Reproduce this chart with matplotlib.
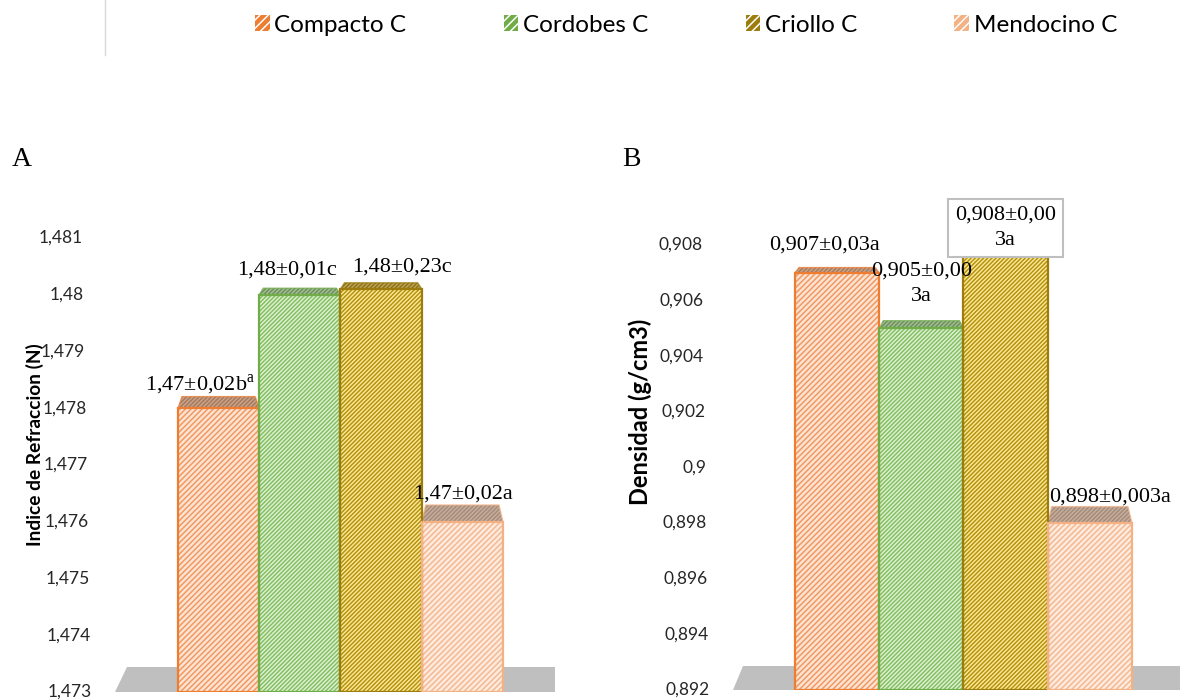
import matplotlib
matplotlib.use("Agg")
import matplotlib.pyplot as plt
from matplotlib.patches import Patch, Polygon
from matplotlib.lines import Line2D

# ---- data ---------------------------------------------------------------
categories = ["Compacto C", "Cordobes C", "Criollo C", "Mendocino C"]
refraction = [1.478, 1.480, 1.4801, 1.476]
density = [0.907, 0.905, 0.908, 0.898]
refraction_labels = ["1,47±0,02b$^{\\mathrm{a}}$", "1,48±0,01c", "1,48±0,23c", "1,47±0,02a"]
density_labels = ["0,907±0,03a", "0,905±0,00\n3a", "0,908±0,00\n3a", "0,898±0,003a"]
refraction_ticks = [1.473, 1.474, 1.475, 1.476, 1.477, 1.478, 1.479, 1.480, 1.481]
density_ticks = [0.892, 0.894, 0.896, 0.898, 0.900, 0.902, 0.904, 0.906, 0.908]

# ---- styling ------------------------------------------------------------
edge_colors = ["#ED7D31", "#70AD47", "#9C7C0C", "#F4B183"]
fill_colors = ["#FDE3D3", "#DFF2D6", "#FFEA9C", "#FDEBE0"]
hatch_colors = ["#F09A62", "#86BF63", "#B4930E", "#F5B88F"]
hatches = ["//////", "////////", "////////", "//////"]
top_colors = ["#CFA387", "#A3BF94", "#C2A551", "#C8AE9E"]
top_hatch_colors = ["#A27B62", "#6F905E", "#8A7420", "#A48C7B"]

SANS = ["Lato", "DejaVu Sans"]
SERIF = ["Liberation Serif", "DejaVu Serif"]
plt.rcParams["hatch.linewidth"] = 1.1
plt.rcParams["mathtext.fontset"] = "custom"
plt.rcParams["mathtext.rm"] = "Liberation Serif"

W, H = 1185, 700
fig = plt.figure(figsize=(W / 100, H / 100), dpi=100)


def axes_px(x0, x1, ytop, ybot):
    return fig.add_axes([x0 / W, 1 - ybot / H, (x1 - x0) / W, (ybot - ytop) / H])


def draw_panel(ax, values, labels, ticks, ylim, xlim, label_offsets, tick_x, boxed, floor_dx):
    ax.set_xlim(*xlim)
    ax.set_ylim(*ylim)
    ax.axis("off")

    # grey floor of the 3-D plot area
    floor = Polygon([(0, 0), (1, 0), (1, 0.055), (floor_dx, 0.055)], closed=True,
                    transform=ax.transAxes, facecolor="#BFBFBF", edgecolor="none",
                    zorder=1, clip_on=False)
    ax.add_patch(floor)

    x = list(range(len(values)))
    base = ylim[0]
    heights = [v - base for v in values]
    ax.bar(x, heights, width=1.0, bottom=base, color=fill_colors, zorder=3, linewidth=0)
    for i, h in enumerate(heights):
        ax.bar(i, h, width=1.0, bottom=base, facecolor="none", edgecolor=hatch_colors[i],
               hatch=hatches[i], linewidth=0, zorder=4)
    ax.bar(x, heights, width=1.0, bottom=base, facecolor="none", edgecolor=edge_colors,
           linewidth=1.6, zorder=5)

    # top faces of the bars, deeper for lower bars (perspective)
    bb = ax.get_position()
    ax_h_px = bb.height * H
    ax_w_px = bb.width * W
    per_px_y = (ylim[1] - ylim[0]) / ax_h_px
    per_px_x = (xlim[1] - xlim[0]) / ax_w_px
    for i, v in enumerate(values):
        top_px = (ylim[1] - v) / per_px_y
        depth = (4 + 0.045 * top_px) * per_px_y
        inset = 4 * per_px_x
        pts = [(i - 0.5, v), (i + 0.5, v), (i + 0.5 - inset, v + depth), (i - 0.5 + inset, v + depth)]
        ax.add_patch(Polygon(pts, closed=True, facecolor=top_colors[i], edgecolor="none",
                             zorder=2, clip_on=False))
        ax.add_patch(Polygon(pts, closed=True, facecolor="none", edgecolor=top_hatch_colors[i],
                             hatch="////////", linewidth=0, zorder=2, clip_on=False))
        ax.plot([i - 0.5, i - 0.5 + inset, i + 0.5 - inset, i + 0.5],
                [v, v + depth, v + depth, v], color=edge_colors[i], lw=1.0, zorder=2,
                clip_on=False, alpha=0.7)

    # value labels
    for i, (v, lab) in enumerate(zip(values, labels)):
        dx, dy = label_offsets[i]
        kw = {}
        if boxed[i]:
            kw["bbox"] = dict(boxstyle="square,pad=0.3", fc="white", ec="#BFBFBF", lw=1.5)
        ax.annotate(lab, xy=(i, v), xytext=(dx * 0.72, dy * 0.72), textcoords="offset points",
                    ha="center", va="center", fontsize=16, family=SERIF,
                    linespacing=1.45, zorder=8, annotation_clip=False, **kw)

    # tick labels (slightly slanted column, as in the 3-D view)
    t0, t1 = tick_x
    for t in ticks:
        frac = (t - ylim[0]) / (ylim[1] - ylim[0])
        xa = t1 + (t0 - t1) * frac
        ax.text(xa, t, f"{t:g}".replace(".", ","), transform=ax.get_yaxis_transform(),
                ha="right", va="center", fontsize=12.5, family=SANS, color="#262626",
                clip_on=False)


# panel A: refraction index
ax1 = axes_px(115, 555, 238, 692)
draw_panel(ax1, refraction, refraction_labels, refraction_ticks,
           ylim=(1.473, 1.481), xlim=(-1.275, 4.14),
           label_offsets=[(-19, 23), (-13, 25), (21, 22), (1, 28)],
           tick_x=(-0.0727, -0.052), boxed=[False, False, False, False], floor_dx=0.027)

# panel B: density
ax2 = axes_px(733, 1180, 245, 690)
draw_panel(ax2, density, density_labels, density_ticks,
           ylim=(0.892, 0.908), xlim=(-1.236, 4.07),
           label_offsets=[(-13, 28), (0, 45), (0, 17), (20, 26)],
           tick_x=(-0.069, -0.0515), boxed=[False, False, True, False], floor_dx=0.022)

# axis titles and panel letters
fig.text(35 / W, 1 - 445 / H, "Indice de Refraccion (N)", rotation=90, ha="center",
         va="center", fontsize=13.8, fontweight="bold", family=SANS)
fig.text(640 / W, 1 - 412 / H, "Densidad (g/cm3)", rotation=90, ha="center",
         va="center", fontsize=17, fontweight="bold", family=SANS)
fig.text(12 / W, 1 - 160 / H, "A", ha="left", va="center", fontsize=20, family=SERIF)
fig.text(622 / W, 1 - 160 / H, "B", ha="left", va="center", fontsize=20, family=SERIF)

# thin separator at the top-left
fig.add_artist(Line2D([105 / W, 105 / W], [1, 1 - 55 / H], color="#D9D9D9", lw=1))

# legend
handles = [Patch(facecolor=edge_colors[i], edgecolor="white", hatch="////", linewidth=0)
           for i in range(len(categories))]
fig.legend(handles, categories, loc="center left", bbox_to_anchor=(255 / W, 1 - 25 / H),
           ncol=4, frameon=False, prop={"family": SANS, "size": 17.5},
           handlelength=0.6, handleheight=0.6, handletextpad=0.2, columnspacing=4.0,
           borderaxespad=0, borderpad=0)

fig.savefig("out.png", dpi=100, facecolor="white")
